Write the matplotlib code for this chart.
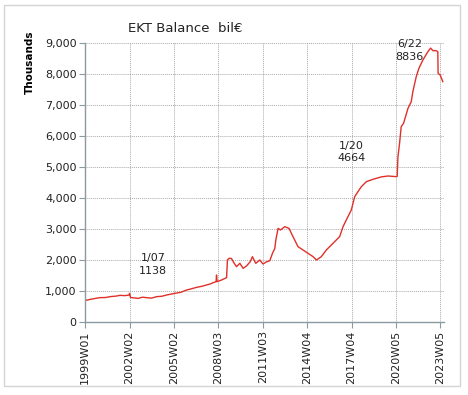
import matplotlib.pyplot as plt
from matplotlib.patches import Rectangle

# EKT balance, x in decimal years
years = [1999.00, 1999.35, 1999.99, 2000.40, 2000.69, 2001.10, 2001.37, 2001.70, 2001.98, 2002.02,
         2002.08, 2002.61, 2002.90, 2003.17, 2003.50, 2003.85, 2004.20, 2004.53, 2005.09, 2005.50,
         2005.88, 2006.20, 2006.56, 2006.90, 2007.23, 2007.50, 2007.68, 2007.88, 2007.91, 2007.95,
         2008.25, 2008.59, 2008.65, 2008.76, 2008.92, 2009.10, 2009.26, 2009.49, 2009.71, 2009.94,
         2010.20, 2010.34, 2010.57, 2010.84, 2011.06, 2011.29, 2011.52, 2011.70, 2011.86, 2011.92,
         2012.08, 2012.24, 2012.53, 2012.82, 2013.09, 2013.43, 2013.77, 2014.11, 2014.45, 2014.68,
         2015.01, 2015.35, 2015.80, 2016.25, 2016.48, 2016.70, 2017.04, 2017.27, 2017.49, 2017.72,
         2018.06, 2018.50, 2019.07, 2019.52, 2020.09, 2020.15, 2020.20, 2020.31, 2020.42, 2020.58,
         2020.88, 2021.10, 2021.21, 2021.44, 2021.62, 2021.89, 2022.23, 2022.41, 2022.57, 2022.79,
         2022.90, 2022.92, 2023.06, 2023.24]
balance = [690, 730, 785, 790, 817, 835, 860, 850, 870, 925,
           790, 763, 800, 785, 770, 817, 830, 871, 925, 960,
           1032, 1070, 1118, 1150, 1194, 1230, 1269, 1300, 1516, 1301,
           1355, 1430, 2000, 2054, 2050, 1900, 1785, 1892, 1731, 1806,
           1950, 2107, 1892, 2000, 1870, 1940, 1978, 2215, 2376, 2624,
           3021, 2968, 3075, 3021, 2753, 2430, 2323, 2215, 2108, 2000,
           2108, 2323, 2538, 2753, 3075, 3290, 3613, 4043, 4204, 4365,
           4526, 4602, 4680, 4710, 4688, 4700, 5333, 5763, 6301, 6408,
           6892, 7107, 7430, 7914, 8183, 8452, 8720, 8836, 8753, 8753,
           8720, 8022, 7968, 7753]

tick_pos = [1999.0, 2002.02, 2005.02, 2008.04, 2011.04, 2014.06, 2017.06, 2020.08, 2023.08]
tick_labels = ['1999W01', '2002W02', '2005W02', '2008W03', '2011W03',
               '2014W04', '2017W04', '2020W05', '2023W05']

notes = [('1/07\n1138', 2003.6, 1850), ('1/20\n4664', 2017.06, 5480), ('6/22\n8836', 2020.99, 8760)]

fig = plt.figure(figsize=(4.68, 3.95), dpi=100)
fig.patches.append(Rectangle((4 / 468, 1 - 386 / 395), 456 / 468, 381 / 395, transform=fig.transFigure,
                             fill=False, edgecolor='#d4d4d4', linewidth=1))
ax = fig.add_axes([85 / 468, 1 - 322 / 395, 359 / 468, 279 / 395])

ax.plot(years, balance, color='#e0302a', linewidth=1.0)

ax.set_xlim(1999.0, 2023.32)
ax.set_ylim(0, 9000)
ax.set_yticks(range(0, 9001, 1000))
ax.set_yticklabels(['{:,}'.format(v) for v in range(0, 9001, 1000)], fontsize=8, color='#222222')
ax.set_xticks(tick_pos)
ax.set_xticklabels(tick_labels, rotation=90, fontsize=8,
                   family=['Liberation Sans Narrow', 'DejaVu Sans Condensed'], color='#222222')
ax.tick_params(axis='both', length=4, color='#8a9aa0', pad=2)
ax.grid(True, color='#aaaaaa', linestyle=(0, (1, 1)), linewidth=0.7)
for s in ['top', 'right']:
    ax.spines[s].set_visible(False)
for s in ['left', 'bottom']:
    ax.spines[s].set_color('#8a9aa0')
    ax.spines[s].set_linewidth(1.0)

for txt, x, y in notes:
    ax.text(x, y, txt, ha='center', va='center', fontsize=8, color='#222222', linespacing=1.3)

fig.text(185 / 468, 1 - 28 / 395, 'EKT Balance  bil€', ha='center', va='center', fontsize=9.5, color='#222222')
fig.text(30 / 468, 1 - 62 / 395, 'Thousands', rotation=90, ha='center', va='center', fontsize=7.5,
         weight='bold', family=['DejaVu Sans Condensed', 'DejaVu Sans'])

fig.savefig('out.png', dpi=100)
